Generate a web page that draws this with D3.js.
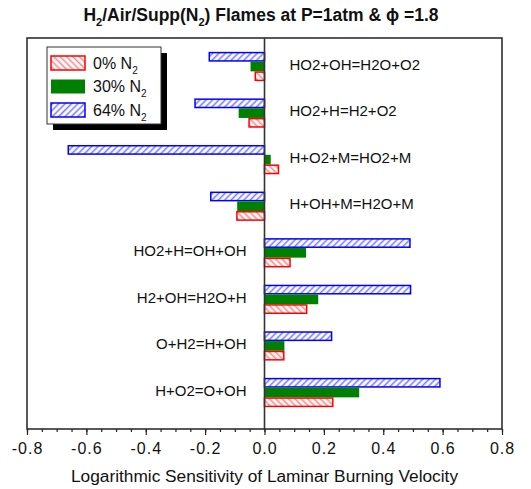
<!DOCTYPE html>
<html>
<head>
<meta charset="utf-8">
<script src="https://cdn.jsdelivr.net/npm/d3@7/dist/d3.min.js"></script>
<style>
  body { margin: 0; background: #fff; }
  svg { font-family: Arial, 'Liberation Sans', Helvetica, sans-serif; }
</style>
</head>
<body>
<div id="chart"></div>
<script>
// reactions, top to bottom
const reactions = ['HO2+OH=H2O+O2', 'HO2+H=H2+O2', 'H+O2+M=HO2+M', 'H+OH+M=H2O+M',
  'HO2+H=OH+OH', 'H2+OH=H2O+H', 'O+H2=H+OH', 'H+O2=O+OH'];
// logarithmic sensitivity for each dilution level
const n2_0 = [-0.031, -0.052, 0.047, -0.093, 0.086, 0.142, 0.065, 0.230];
const n2_30 = [-0.047, -0.087, 0.021, -0.092, 0.140, 0.181, 0.067, 0.319];
const n2_64 = [-0.186, -0.234, -0.661, -0.181, 0.490, 0.492, 0.226, 0.591];
const seriesNames = ['64%', '30%', '0%'];   // bar order inside a group, top first
const legendNames = ['0%', '30%', '64%'];
const xTicks = [-0.8, -0.6, -0.4, -0.2, 0.0, 0.2, 0.4, 0.6, 0.8];

const W = 531, H = 489;
const frame = { left: 27, right: 502, top: 38, bottom: 429 };

const svg = d3.select('#chart').append('svg')
  .attr('width', W).attr('height', H);

const defs = svg.append('defs');
function hatch(id, color, angle) {
  const p = defs.append('pattern')
    .attr('id', id)
    .attr('patternUnits', 'userSpaceOnUse')
    .attr('width', 4.5).attr('height', 4.5)
    .attr('patternTransform', 'rotate(' + angle + ')');
  p.append('rect').attr('width', 4.5).attr('height', 4.5).attr('fill', '#fff');
  p.append('line')
    .attr('x1', 1.5).attr('y1', 0).attr('x2', 1.5).attr('y2', 4.5)
    .attr('stroke', color).attr('stroke-width', 1.6);
}
hatch('hatchRed', '#ff8a8a', -45);
hatch('hatchBlue', '#7d7dff', 45);

const style = {
  '0%': { fill: 'url(#hatchRed)', stroke: '#ff0000' },
  '30%': { fill: '#008000', stroke: '#008000' },
  '64%': { fill: 'url(#hatchBlue)', stroke: '#0000ff' }
};
const valuesOf = { '0%': n2_0, '30%': n2_30, '64%': n2_64 };

const x = d3.scaleLinear().domain([-0.8, 0.8]).range([frame.left, frame.right]);
const y = d3.scaleLinear().domain([0, reactions.length - 1]).range([66.5, 392.5]);
const yIn = d3.scaleBand().domain(seriesNames).range([-14.6, 14.6]);

// bars
const groups = svg.append('g').selectAll('g')
  .data(reactions)
  .join('g')
  .attr('transform', (d, i) => 'translate(0,' + y(i) + ')');

groups.selectAll('rect')
  .data((d, i) => seriesNames.map(s => ({ s: s, v: valuesOf[s][i] })))
  .join('rect')
  .attr('x', d => x(Math.min(0, d.v)))
  .attr('width', d => Math.abs(x(d.v) - x(0)))
  .attr('y', d => yIn(d.s) + (d.s === '30%' ? 0 : 0.7))
  .attr('height', d => yIn.bandwidth() - (d.s === '30%' ? 0 : 1.4))
  .attr('fill', d => style[d.s].fill)
  .attr('stroke', d => style[d.s].stroke)
  .attr('stroke-width', d => d.s === '30%' ? 0 : 1.5);

// reaction labels: on the empty side of the zero line
groups.append('text')
  .attr('x', (d, i) => n2_64[i] < 0 ? x(0) + 25 : x(0) - 18)
  .attr('y', -2)
  .attr('dy', '0.35em')
  .attr('text-anchor', (d, i) => n2_64[i] < 0 ? 'start' : 'end')
  .attr('font-size', 15)
  .attr('fill', '#111')
  .text(d => d);

// frame
svg.append('rect')
  .attr('x', frame.left).attr('y', frame.top)
  .attr('width', frame.right - frame.left).attr('height', frame.bottom - frame.top)
  .attr('fill', 'none').attr('stroke', '#222').attr('stroke-width', 1.5);

// zero line
svg.append('line')
  .attr('x1', x(0)).attr('x2', x(0))
  .attr('y1', frame.top).attr('y2', frame.bottom)
  .attr('stroke', '#333').attr('stroke-width', 1.6);

// bottom axis with minor ticks
svg.append('g')
  .attr('transform', 'translate(0,' + frame.bottom + ')')
  .call(d3.axisBottom(x).tickValues(d3.range(-0.8, 0.801, 0.05)).tickSize(3).tickFormat(''))
  .call(g => g.select('.domain').remove())
  .call(g => g.selectAll('line').attr('stroke', '#222').attr('stroke-width', 1.2));

svg.append('g')
  .attr('transform', 'translate(0,' + frame.bottom + ')')
  .call(d3.axisBottom(x).tickValues(xTicks).tickSize(6).tickPadding(8)
    .tickFormat(d => d.toFixed(1)))
  .call(g => g.select('.domain').remove())
  .call(g => g.selectAll('line').attr('stroke', '#222').attr('stroke-width', 1.2))
  .call(g => g.selectAll('text')
    .attr('font-size', 16).attr('fill', '#111')
    .attr('font-family', "Arial, 'Liberation Sans', sans-serif")
    .style('letter-spacing', '1px'));

// axis title
svg.append('text')
  .attr('x', (frame.left + frame.right) / 2)
  .attr('y', 482)
  .attr('text-anchor', 'middle')
  .attr('font-size', 17.3)
  .attr('fill', '#111')
  .text('Logarithmic Sensitivity of Laminar Burning Velocity');

// title
const title = svg.append('text')
  .attr('x', 261).attr('y', 21)
  .attr('text-anchor', 'middle')
  .attr('font-size', 17.5).attr('font-weight', 'bold')
  .attr('fill', '#111');
const parts = [['H', 0], ['2', 1], ['/Air/Supp(N', 0], ['2', 1], [') Flames at P=1atm & \u03D5 =1.8', 0]];
parts.forEach((p, i) => {
  const prevSub = i > 0 && parts[i - 1][1];
  title.append('tspan')
    .attr('font-size', p[1] ? 11 : 17.5)
    .attr('dy', p[1] ? 5 : (prevSub ? -5 : 0))
    .text(p[0]);
});

// legend
const lg = svg.append('g').attr('transform', 'translate(47,47)');
lg.append('rect').attr('x', 6).attr('y', 6).attr('width', 114).attr('height', 77).attr('fill', '#000');
lg.append('rect').attr('width', 114).attr('height', 77)
  .attr('fill', '#fff').attr('stroke', '#333').attr('stroke-width', 1);
const items = lg.selectAll('g.item')
  .data(legendNames)
  .join('g')
  .attr('class', 'item')
  .attr('transform', (d, i) => 'translate(4,' + (9 + i * 23.5) + ')');
items.append('rect')
  .attr('width', 34).attr('height', 14)
  .attr('fill', d => style[d].fill)
  .attr('stroke', d => style[d].stroke)
  .attr('stroke-width', d => d === '30%' ? 0 : 1.5);
const lt = items.append('text')
  .attr('x', 42).attr('y', 7).attr('dy', '0.35em')
  .attr('font-size', 16).attr('fill', '#111');
lt.append('tspan').text(d => d + ' N');
lt.append('tspan').attr('font-size', 10).attr('dy', 5).text('2');
</script>
</body>
</html>
